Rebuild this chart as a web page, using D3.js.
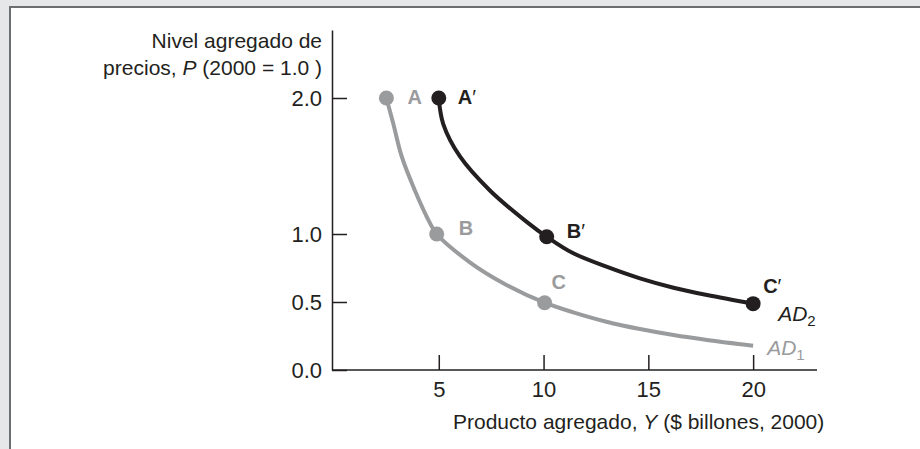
<!DOCTYPE html>
<html>
<head>
<meta charset="utf-8">
<script src="https://cdn.jsdelivr.net/npm/d3@7"></script>
<style>
  body { margin: 0; background: #e6e7e8; }
  text { font-family: "Liberation Sans", Arial, sans-serif; fill: #231f20; }
</style>
</head>
<body>
<div id="chart"></div>
<script>
// AD1 curve (gray)
const ad1Y = [2.5, 2.83, 3.23, 3.86, 4.58, 4.9, 6.5, 8.06, 10.05, 11.42, 13.0, 14.6, 16.2, 17.8, 20];
const ad1P = [2.0, 1.81, 1.57, 1.32, 1.08, 1.0, 0.79, 0.64, 0.495, 0.424, 0.355, 0.301, 0.257, 0.221, 0.179];
const ad1Dots = [0, 5, 8];
const ad1Labels = ["A", "B", "C"];

// AD2 curve (black)
const ad2Y = [5, 5.21, 6.01, 7.44, 9.27, 10.15, 11.42, 13.0, 14.6, 16.2, 17.8, 20];
const ad2P = [2.0, 1.81, 1.57, 1.32, 1.08, 0.98, 0.858, 0.76, 0.674, 0.605, 0.551, 0.488];
const ad2Dots = [0, 5, 11];
const ad2Labels = ["A", "B", "C"];

const xTicks = [5, 10, 15, 20];
const yTicks = [0, 0.5, 1.0, 2.0];

let width = 920, height = 449;
let gray = "#9a9b9d", black = "#231f20";

let svg = d3.select("#chart").append("svg").attr("width", width).attr("height", height);

svg.append("rect").attr("width", width).attr("height", height).attr("fill", "#e6e7e8");
svg.append("rect").attr("x", 10).attr("y", 7).attr("width", 940).attr("height", 480)
  .attr("fill", "#fff").attr("stroke", "#6d6e70").attr("stroke-width", 2);

let x = d3.scaleLinear().domain([0, 23]).range([334, 816]);
let y = d3.scaleLinear().domain([0, 2.5]).range([370, 30]);

// axes
let yAxis = svg.append("g").attr("transform", "translate(332,0)")
  .call(d3.axisLeft(y).tickValues(yTicks).tickFormat(d3.format(".1f"))
    .tickSize(-15).tickSizeOuter(0).tickPadding(10));
let xAxis = svg.append("g").attr("transform", "translate(0,370)")
  .call(d3.axisBottom(x).tickValues(xTicks).tickSize(-15).tickSizeOuter(0).tickPadding(11));
xAxis.select(".domain").attr("d", "M332,0H817");

[xAxis, yAxis].forEach(a => {
  a.selectAll("path, line").attr("stroke", black).attr("stroke-width", 1.5);
  a.selectAll("text").style("font-size", "22px").attr("fill", black)
    .style("font-family", "Liberation Sans, Arial, sans-serif");
});

// axis titles
let yt = svg.append("text").attr("text-anchor", "end").style("font-size", "21px");
yt.append("tspan").attr("x", 322).attr("y", 48).text("Nivel agregado de");
let yt2 = yt.append("tspan").attr("x", 322).attr("y", 74.5);
yt2.text("precios, ");
yt.append("tspan").style("font-style", "italic").text("P");
yt.append("tspan").text(" (2000 = 1.0 )");

let xt = svg.append("text").attr("x", 453).attr("y", 429).style("font-size", "21px");
xt.append("tspan").text("Producto agregado,  ");
xt.append("tspan").style("font-style", "italic").text("Y");
xt.append("tspan").text(" ($ billones, 2000)");

// curves
let line = d3.line().x(d => x(d[0])).y(d => y(d[1])).curve(d3.curveCatmullRom);
let ad1 = ad1Y.map((v, i) => [v, ad1P[i]]);
let ad2 = ad2Y.map((v, i) => [v, ad2P[i]]);

svg.append("path").datum(ad1).attr("d", line).attr("fill", "none")
  .attr("stroke", gray).attr("stroke-width", 4);
svg.append("path").datum(ad2).attr("d", line).attr("fill", "none")
  .attr("stroke", black).attr("stroke-width", 4);

svg.selectAll(".dot1").data(ad1Dots).enter().append("circle").attr("class", "dot1")
  .attr("cx", i => x(ad1Y[i])).attr("cy", i => y(ad1P[i])).attr("r", 7.5).attr("fill", gray);
svg.selectAll(".dot2").data(ad2Dots).enter().append("circle").attr("class", "dot2")
  .attr("cx", i => x(ad2Y[i])).attr("cy", i => y(ad2P[i])).attr("r", 7.5).attr("fill", black);

// point labels
let off1 = [[21, 6], [22, 1], [7, -14]];
let off2 = [[19, 6], [20, 1], [10, -11]];
ad1Dots.forEach((idx, k) => {
  svg.append("text").attr("x", x(ad1Y[idx]) + off1[k][0]).attr("y", y(ad1P[idx]) + off1[k][1])
    .style("font-size", "20px").style("font-weight", "bold").style("fill", gray)
    .text(ad1Labels[k]);
});
ad2Dots.forEach((idx, k) => {
  let t = svg.append("text").attr("x", x(ad2Y[idx]) + off2[k][0]).attr("y", y(ad2P[idx]) + off2[k][1])
    .style("font-size", "20px").style("font-weight", "bold");
  t.append("tspan").text(ad2Labels[k]);
  t.append("tspan").style("font-weight", "normal").text("′");
});

// curve names
let last1 = ad1.length - 1, last2 = ad2.length - 1;
let n2 = svg.append("text").attr("x", x(ad2Y[last2]) + 25).attr("y", y(ad2P[last2]) + 17)
  .style("font-size", "21px").style("font-style", "italic");
n2.append("tspan").text("AD");
n2.append("tspan").attr("dy", 5).style("font-size", "15px").style("font-style", "normal").text("2");
let n1 = svg.append("text").attr("x", x(ad1Y[last1]) + 14).attr("y", y(ad1P[last1]) + 9)
  .style("font-size", "21px").style("font-style", "italic").style("fill", gray);
n1.append("tspan").text("AD");
n1.append("tspan").attr("dy", 5).style("font-size", "15px").style("font-style", "normal").text("1");
</script>
</body>
</html>
